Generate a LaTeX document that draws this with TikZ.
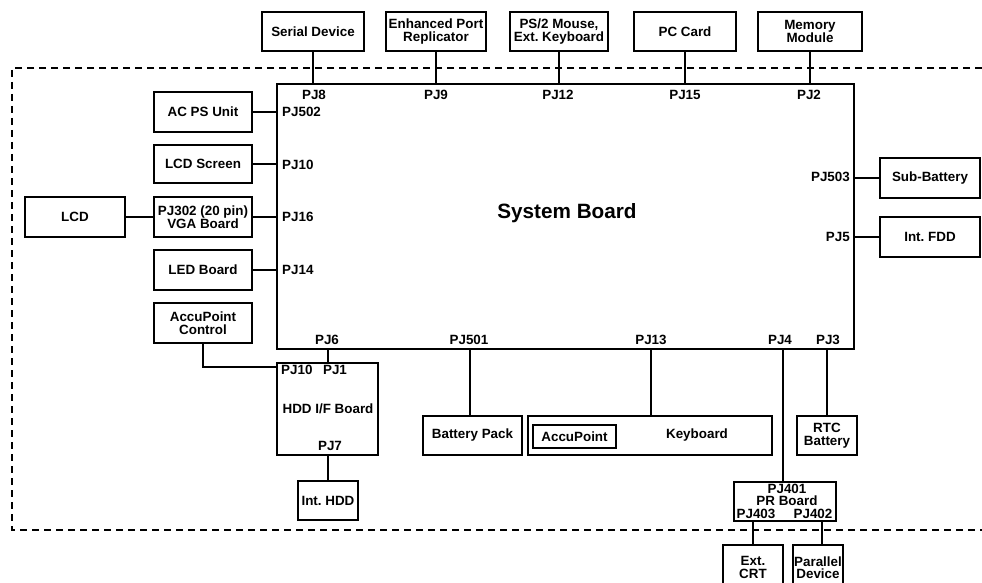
\documentclass[tikz,border=0pt]{standalone}
\usepackage{fontspec}
\setmainfont{Liberation Sans}
\frenchspacing
\begin{document}
\begin{tikzpicture}[x=1pt,y=-1pt,
  every node/.style={font=\fontsize{13.4}{12.5}\selectfont\bfseries, inner sep=0pt, align=center},
  bx/.style={draw, line width=1.6pt, minimum width=#1, minimum height=39},
  bx/.default=100,
  wire/.style={line width=1.6pt},
  bound/.style={line width=1.5pt, dash pattern=on 7pt off 5pt}]
\useasboundingbox (0,0) rectangle (982,583);
\clip (0,0) rectangle (982,583);

% boundary
\draw[bound] (982,68) -- (12,68) -- (12,530) -- (982,530);

% system board
\node[draw, line width=1.6pt, minimum width=577, minimum height=265] (sb) at (565.5,216.5) {};
\node[font=\fontsize{20.7}{24}\selectfont\bfseries] (sbl) at (567,213) {System Board};

% top
\node[bx=102] (ser) at (313,31.5) {Serial Device};
\node[bx=100] (epr) at (436,31.5) {Enhanced Port\\Replicator};
\node[bx=98] (ps2) at (559,31.5) {PS/2 Mouse,\\Ext. Keyboard};
\node[bx=102] (pcc) at (685,31.5) {PC Card};
\node[bx=104] (mem) at (810,31.5) {Memory\\Module};
\foreach \n in {ser,epr,ps2,pcc,mem}{\draw[wire] (\n.south) -- (\n.south |- sb.north);}
\node (pj8) at (314,95) {PJ8};
\node (pj9) at (436,95) {PJ9};
\node (pj12) at (558,95) {PJ12};
\node (pj15) at (685,95) {PJ15};
\node (pj2) at (809,95) {PJ2};

% left
\node[bx=98, minimum height=40] (acps) at (203,112) {AC PS Unit};
\node[bx=98, minimum height=38] (lcds) at (203,164) {LCD Screen};
\node[bx=98, minimum height=40] (vga) at (203,217) {PJ302 (20 pin)\\VGA Board};
\node[bx=98, minimum height=40] (led) at (203,270) {LED Board};
\node[bx=98, minimum height=40] (apc) at (203,323) {AccuPoint\\Control};
\node[bx=100, minimum height=40] (lcd) at (75,217) {LCD};
\foreach \n in {acps,lcds,vga,led}{\draw[wire] (\n.east) -- (\n.east -| sb.west);}
\draw[wire] (lcd.east) -- (vga.west);
\node[anchor=west] (pj502) at (282,112) {PJ502};
\node[anchor=west] (pj10) at (282,165) {PJ10};
\node[anchor=west] (pj16) at (282,217) {PJ16};
\node[anchor=west] (pj14) at (282,270) {PJ14};

% right
\node[bx=100, minimum height=40] (sub) at (930,178) {Sub-Battery};
\node[bx=100, minimum height=40] (fdd) at (930,237) {Int. FDD};
\foreach \n in {sub,fdd}{\draw[wire] (\n.west) -- (\n.west -| sb.east);}
\node[anchor=east] (pj503) at (850,177) {PJ503};
\node[anchor=east] (pj5) at (850,237) {PJ5};

% bottom labels
\node (pj6) at (327,340) {PJ6};
\node (pj501) at (469,340) {PJ501};
\node (pj13) at (651,340) {PJ13};
\node (pj4) at (780,340) {PJ4};
\node (pj3) at (828,340) {PJ3};

% HDD I/F board
\node[draw, line width=1.6pt, minimum width=101, minimum height=92] (hdd) at (327.5,409) {};
\node[anchor=west] (pj10b) at (281,370) {PJ10};
\node (pj1) at (335,370) {PJ1};
\node (hddl) at (328,409) {HDD I/F Board};
\node (pj7) at (330,446) {PJ7};
\node[bx=60] (ihdd) at (328,500.5) {Int. HDD};
\draw[wire] (ihdd.north |- sb.south) -- (ihdd.north |- hdd.north);
\draw[wire] (ihdd.north) -- (ihdd.north |- hdd.south);
\draw[wire] (apc.south) |- ([yshift=-5pt]hdd.north west);

% battery pack
\node[bx=99] (bp) at (472.5,435.5) {Battery Pack};
\draw[wire] ([xshift=-2.5pt]bp.north) -- ([xshift=-2.5pt]bp.north |- sb.south);

% keyboard
\node[bx=244] (kb) at (650,435.5) {};
\node (kbl) at (697,435) {Keyboard};
\node[draw, line width=1.6pt, minimum width=83, minimum height=23] (ap) at (574.5,436.5) {AccuPoint};
\draw[wire] ([xshift=1pt]kb.north) -- ([xshift=1pt]kb.north |- sb.south);

% RTC
\node[bx=60] (rtc) at (827,435.5) {RTC\\Battery};
\draw[wire] (rtc.north) -- (rtc.north |- sb.south);

% PR board
\node[bx=102] (pr) at (785,501.5) {};
\node (pj401) at (787,489) {PJ401};
\node (prl) at (787,501) {PR Board};
\node (pj403) at (756,514) {PJ403};
\node (pj402) at (813,514) {PJ402};
\draw[wire] ([xshift=-2pt]pr.north) -- ([xshift=-2pt]pr.north |- sb.south);

\node[bx=60, minimum height=45] (crt) at (753,567.5) {Ext.\\CRT};
\node[bx=50, minimum height=45] (par) at (818,567.5) {Parallel\\Device};
\draw[wire] (crt.north) -- (crt.north |- pr.south);
\draw[wire] ([xshift=4pt]par.north) -- ([xshift=4pt]par.north |- pr.south);
\end{tikzpicture}
\end{document}
